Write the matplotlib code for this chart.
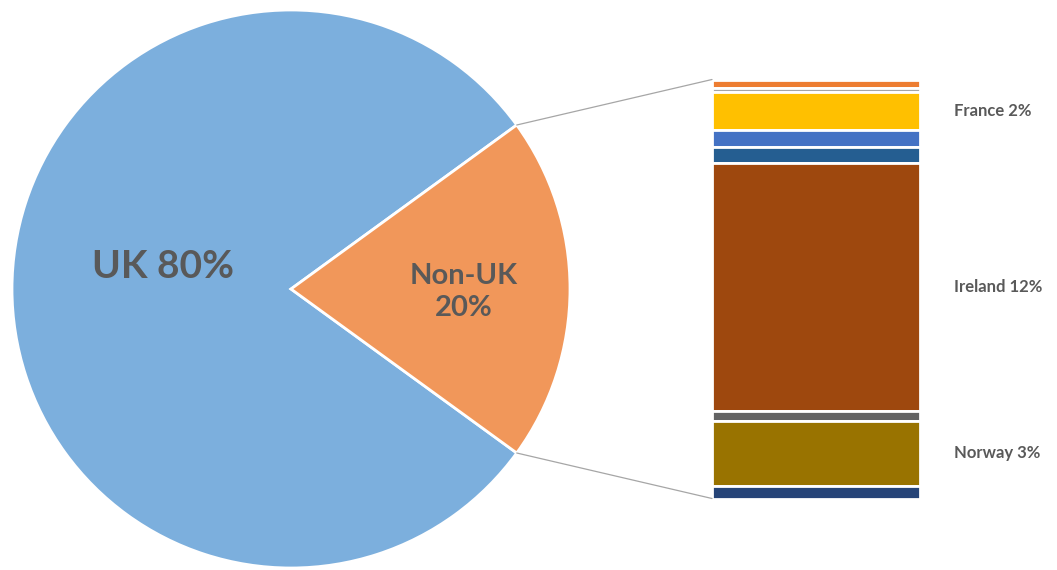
import matplotlib
matplotlib.use("Agg")
import matplotlib.pyplot as plt
from matplotlib.patches import ConnectionPatch
import numpy as np

# main split
pie_labels = ["UK 80%", "Non-UK\n20%"]
pie_values = [80, 20]
pie_colors = ["#7CAFDD", "#F1975A"]

# breakdown of the non-UK share, listed top to bottom
bar_names = ["", "", "France", "", "", "Ireland", "", "Norway", ""]
bar_values = [0.4, 0.2, 1.8, 0.8, 0.8, 11.8, 0.5, 3.1, 0.6]
bar_colors = ["#ED7D31", "#A5A5A5", "#FFC000", "#4472C4", "#255E91",
              "#9E480E", "#636363", "#997300", "#264478"]

txt = "#595959"
plt.rcParams['font.family'] = ['Lato', 'DejaVu Sans']

fig = plt.figure(figsize=(10.57, 5.70), dpi=100)

# ---- pie
ax1 = fig.add_axes([12/1057, 2/570, 558/1057, 558/570])
wedges, _ = ax1.pie(pie_values, colors=pie_colors, startangle=36, radius=1,
                    wedgeprops=dict(edgecolor="white", linewidth=2))
ax1.set_aspect("equal")
ax1.set_xlim(-1, 1)
ax1.set_ylim(-1, 1)
ax1.text(-0.46, 0.08, pie_labels[0], ha="center", va="center",
         fontsize=28, fontweight="bold", color=txt)
ax1.text(0.62, -0.01, pie_labels[1], ha="center", va="center",
         fontsize=21, fontweight="bold", color=txt, linespacing=1.3)

# ---- stacked bar
ax2 = fig.add_axes([712/1057, (570-498.5)/570, 208/1057, 419/570])
total = sum(bar_values)
bottom = total
for name, v, c in zip(bar_names, bar_values, bar_colors):
    bottom -= v
    ax2.bar(0, v, bottom=bottom, width=1, color=c, edgecolor="white", linewidth=2)
    if name:
        ax2.text(0.665, bottom + v/2, f"{name} {round(v)}%", ha="left", va="center",
                 fontsize=12, fontweight="bold", color=txt)
ax2.set_xlim(-0.5, 0.5)
ax2.set_ylim(0, total)
ax2.axis("off")

# connector lines from the wedge edges to the bar
th = np.deg2rad(36)
for y, sgn in [(total, 1), (0, -1)]:
    con = ConnectionPatch(xyA=(np.cos(th), sgn*np.sin(th)), coordsA=ax1.transData,
                          xyB=(-0.5, y), coordsB=ax2.transData,
                          color="#A6A6A6", linewidth=0.9)
    fig.add_artist(con)

fig.savefig("out.png", dpi=100)
